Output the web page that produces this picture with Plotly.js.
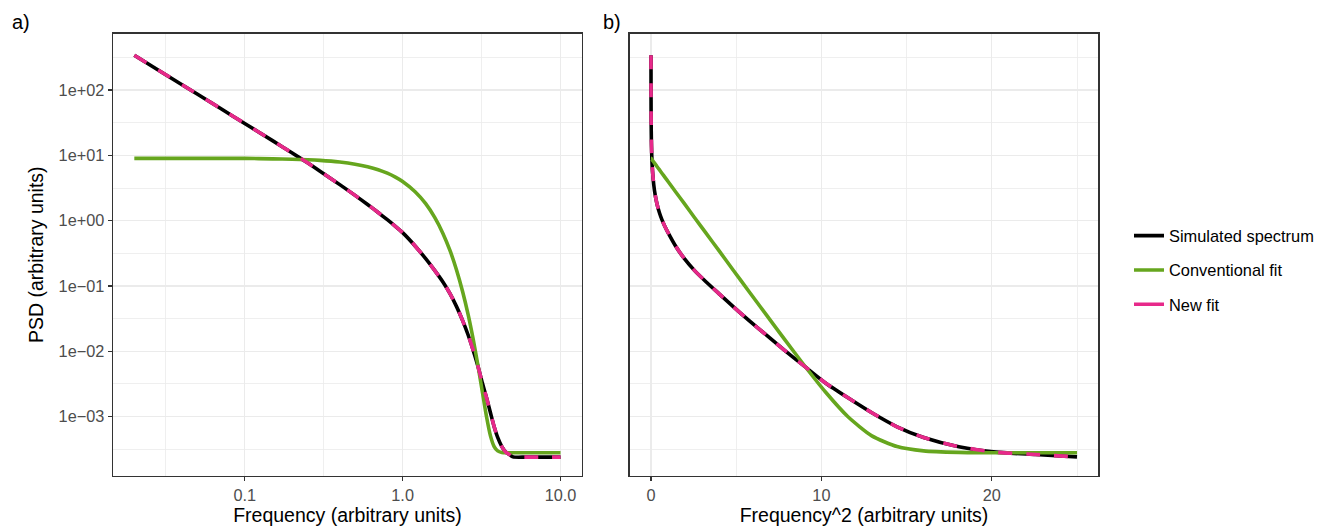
<!DOCTYPE html>
<html>
<head>
<meta charset="utf-8">
<script src="https://cdn.plot.ly/plotly-3.0.1.min.js"></script>
<style>
  html, body { margin: 0; padding: 0; background: #ffffff; }
  #chart { width: 1320px; height: 527px; }
</style>
</head>
<body>
<div id="chart"></div>
<script>
// ---- data ----
const freq = [0.02, 0.03, 0.05, 0.07, 0.1, 0.15, 0.2, 0.25, 0.3, 0.4, 0.5, 0.6, 0.7, 0.8, 0.9, 1.0,
              1.2, 1.4, 1.6, 1.8, 2.0, 2.2, 2.4, 2.6, 2.8, 3.0, 3.2, 3.4, 3.6, 3.8, 4.0, 4.25, 4.5, 4.75, 5.0,
              6.0, 8.0, 10.0];

const simulated = [341, 186, 86.7, 52.5, 30.8, 16.8, 10.84, 7.67, 5.73, 3.56, 2.44, 1.77, 1.333, 1.035, 0.820, 0.656,
                   0.410, 0.262, 0.172, 0.1153, 0.0759, 0.0479, 0.0295, 0.01778, 0.01035, 0.00592, 0.00327, 0.00194,
                   0.001146, 0.00070, 0.00048, 0.000347, 0.000286, 0.000263, 0.000242,
                   0.000240, 0.000240, 0.000240];

const conventional = [9.0, 9.0, 9.0, 9.0, 8.99, 8.83, 8.71, 8.55, 8.36, 7.89, 7.33, 6.70, 6.03, 5.33, 4.64, 3.98,
                      2.77, 1.82, 1.11, 0.638, 0.344, 0.173, 0.0817, 0.0364, 0.01521, 0.00607, 0.00238, 0.000996,
                      0.000508, 0.000348, 0.000299, 0.0002835, 0.000280, 0.000280, 0.000280,
                      0.000280, 0.000280, 0.000280];

const newFit = [341, 186, 86.7, 52.5, 30.8, 16.8, 10.84, 7.67, 5.73, 3.56, 2.44, 1.77, 1.333, 1.035, 0.820, 0.656,
                0.410, 0.262, 0.172, 0.1153, 0.0759, 0.0479, 0.0295, 0.01778, 0.01035, 0.00592, 0.00327, 0.00194,
                0.001146, 0.00070, 0.00048, 0.000347, 0.000286, 0.000263, 0.000242,
                0.000240, 0.000240, 0.000240];

const seriesNames = ['Simulated spectrum', 'Conventional fit', 'New fit'];
const maxFreqSquaredPanel = 5.0;   // panel b shows frequency^2 up to 25

const yTickVals = [1e-3, 1e-2, 1e-1, 1, 10, 100];
const yTickText = ['1e\u221203', '1e\u221202', '1e\u221201', '1e+00', '1e+01', '1e+02'];
const yMinorVals = [-3.5, -2.5, -1.5, -0.5, 0.5, 1.5, 2.5].map(e => Math.pow(10, e));
const x1TickVals = [0.1, 1, 10];
const x1TickText = ['0.1', '1.0', '10.0'];
const x1MinorVals = [-1.5, -0.5, 0.5].map(e => Math.pow(10, e));
const x2TickVals = [0, 10, 20];
const x2TickText = ['0', '10', '20'];
const x2MinorVals = [5, 15, 25];

// ---- derived series for panel b ----
const idxB = freq.map((f, i) => i).filter(i => freq[i] <= maxFreqSquaredPanel);
const freqSq = idxB.map(i => freq[i] * freq[i]);
const pick = arr => idxB.map(i => arr[i]);

// ---- styles ----
const colors = ['#000000', '#66A61E', '#E7298A'];
const lw = 3.6;
const dashNew = '14px,14px';
const font = 'Liberation Sans, Arial, Helvetica, sans-serif';
const gridCol = '#ebebeb';
const borderCol = '#333333';

function mk(x, y, k, xa, ya) {
  return {
    x: x, y: y, type: 'scatter', mode: 'lines', name: seriesNames[k],
    xaxis: xa, yaxis: ya, showlegend: false, legendgroup: 'g' + k,
    line: { color: colors[k], width: lw, dash: k === 2 ? dashNew : 'solid', shape: 'spline', smoothing: 0.6 },
    hoverinfo: 'skip'
  };
}
// legend keys (solid short lines, as in the reference legend)
function key(k) {
  return {
    x: [null], y: [null], type: 'scatter', mode: 'lines', name: seriesNames[k],
    xaxis: 'x', yaxis: 'y', showlegend: true, legendgroup: 'g' + k,
    line: { color: colors[k], width: lw }, hoverinfo: 'skip'
  };
}

const traces = [
  mk(freq, simulated, 0, 'x', 'y'),
  mk(freq, conventional, 1, 'x', 'y'),
  mk(freq, newFit, 2, 'x', 'y'),
  mk(freqSq, pick(simulated), 0, 'x2', 'y2'),
  mk(freqSq, pick(conventional), 1, 'x2', 'y2'),
  mk(freqSq, pick(newFit), 2, 'x2', 'y2'),
  key(0), key(1), key(2)
];

const W = 1320, H = 527;
const yDom = [1 - 475.7 / H, 1 - 33.7 / H];
const yRange = [-3.904, 2.862];

const tickFont = { family: font, size: 16.3, color: '#4d4d4d' };
const titleFont = { family: font, size: 19.5, color: '#000000' };

const baseAxis = {
  showline: true, mirror: true, linecolor: borderCol, linewidth: 1.4,
  showgrid: true, gridcolor: gridCol, gridwidth: 1.4, zeroline: false,
  ticks: 'outside', ticklen: 4, tickwidth: 1.3, tickcolor: borderCol,
  tickfont: tickFont, automargin: false, fixedrange: true
};

const layout = {
  width: W, height: H,
  margin: { l: 0, r: 0, t: 0, b: 0 },
  paper_bgcolor: '#ffffff', plot_bgcolor: '#ffffff',
  font: { family: font },
  showlegend: true,
  legend: {
    x: 1129 / W, xanchor: 'left', y: 1 - 270 / H, yanchor: 'middle',
    font: { family: font, size: 16.4, color: '#000000' },
    tracegroupgap: 10, traceorder: 'grouped', bgcolor: 'rgba(0,0,0,0)'
  },
  xaxis: Object.assign({}, baseAxis, {
    domain: [113 / W, 582 / W], anchor: 'y', type: 'log',
    range: [-1.834, 1.136],
    tickmode: 'array', tickvals: x1TickVals, ticktext: x1TickText,
    minor: { tickmode: 'array', tickvals: x1MinorVals, showgrid: true, gridcolor: gridCol, gridwidth: 0.8, ticks: '' },
    title: { text: 'Frequency (arbitrary units)', font: titleFont, standoff: 5 }
  }),
  yaxis: Object.assign({}, baseAxis, {
    domain: yDom, anchor: 'x', type: 'log', range: yRange,
    tickmode: 'array', tickvals: yTickVals, ticktext: yTickText,
    minor: { tickmode: 'array', tickvals: yMinorVals, showgrid: true, gridcolor: gridCol, gridwidth: 0.8, ticks: '' },
    title: { text: 'PSD (arbitrary units)', font: titleFont, standoff: 9 }
  }),
  xaxis2: Object.assign({}, baseAxis, {
    domain: [629.7 / W, 1098.3 / W], anchor: 'y2', type: 'linear',
    range: [-1.25, 26.25],
    tickmode: 'array', tickvals: x2TickVals, ticktext: x2TickText,
    minor: { tickmode: 'array', tickvals: x2MinorVals, showgrid: true, gridcolor: gridCol, gridwidth: 0.8, ticks: '' },
    title: { text: 'Frequency^2 (arbitrary units)', font: titleFont, standoff: 5 }
  }),
  yaxis2: Object.assign({}, baseAxis, {
    domain: yDom, anchor: 'x2', type: 'log', range: yRange,
    tickmode: 'array', tickvals: yTickVals, ticktext: yTickText,
    showticklabels: false, ticks: '',
    minor: { tickmode: 'array', tickvals: yMinorVals, showgrid: true, gridcolor: gridCol, gridwidth: 0.8, ticks: '' }
  }),
  annotations: [
    { text: 'a)', xref: 'paper', yref: 'paper', x: 10 / W, y: 1 - 22 / H, xanchor: 'left', yanchor: 'middle',
      showarrow: false, font: { family: font, size: 20, color: '#000000' } },
    { text: 'b)', xref: 'paper', yref: 'paper', x: 601 / W, y: 1 - 22 / H, xanchor: 'left', yanchor: 'middle',
      showarrow: false, font: { family: font, size: 20, color: '#000000' } }
  ]
};

Plotly.newPlot('chart', traces, layout, { displayModeBar: false, staticPlot: true });
</script>
</body>
</html>
